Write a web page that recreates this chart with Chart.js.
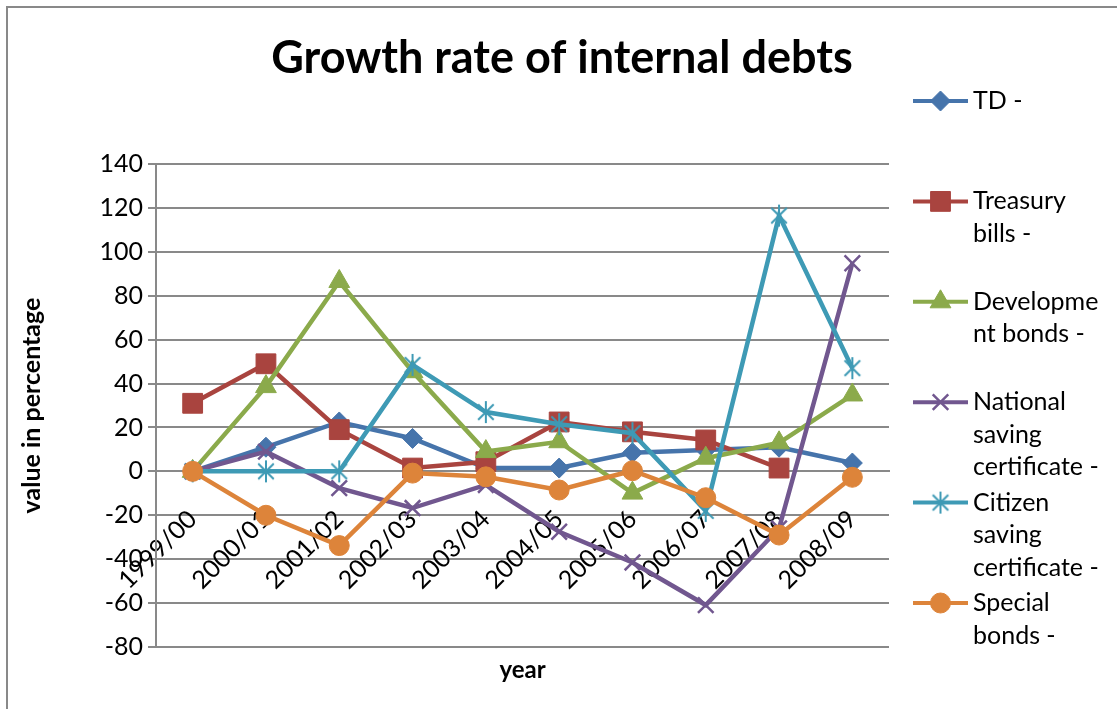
<!DOCTYPE html>
<html>
<head>
<meta charset="utf-8">
<title>Growth rate of internal debts</title>
<script src="https://cdn.jsdelivr.net/npm/chart.js@4.4.1/dist/chart.umd.min.js"></script>
<style>
  html, body { margin: 0; padding: 0; background: #fff; overflow: hidden; }
  #frame { position: absolute; left: 6px; top: 6px; width: 1200px; height: 800px; border: 2px solid #898989; }
  #chart { position: absolute; left: 0; top: 0; }
</style>
</head>
<body>
<div id="frame"></div>
<canvas id="chart" width="1117" height="709"></canvas>
<script>
const years = ["1999/00", "2000/01", "2001/02", "2002/03", "2003/04", "2004/05", "2005/06", "2006/07", "2007/08", "2008/09"];

const tdRates          = [0, 11, 22.5, 15, 1.5, 1.5, 8.5, 9.7, 11, 3.8];
const treasuryRates    = [31, 49, 19, 1.5, 4.4, 22.5, 18, 14.3, 1.5, null];
const devBondRates     = [0, 38.6, 86.5, 45.4, 9, 13.5, -9.9, 6, 13, 34.8];
const nscRates         = [0, 9, -7.6, -16.7, -6.2, -27.5, -41.5, -60.9, -26, 94.8];
const cscRates         = [0, 0, 0, 48.5, 27, 21.5, 17.4, -18, 116.5, 47];
const specialBondRates = [0, -20, -33.8, -0.8, -2.5, -8.5, 0.3, -12, -29, -2.7];

const seriesNames = ["TD -", "Treasury bills -", "Development bonds -", "National saving certificate -", "Citizen saving certificate -", "Special bonds -"];
// legend text wraps the same way the side panel does
const legendLines = [
  ["TD -"],
  ["Treasury", "bills -"],
  ["Developme", "nt bonds -"],
  ["National", "saving", "certificate -"],
  ["Citizen", "saving", "certificate -"],
  ["Special", "bonds -"]
];

const yTicksMin = -80, yTicksMax = 140, yTicksStep = 20;

const FONT = "Lato, 'Noto Sans', sans-serif";
const gridGray = "#898989";

const colors = ["#4674AB", "#A9443F", "#8BAA4B", "#71578F", "#3E9AB5", "#DD843A"];

// six-armed asterisk marker (vertical bar + X)
function makeAsterisk(color, r) {
  const c = document.createElement("canvas");
  c.width = c.height = 2 * r + 4;
  const g = c.getContext("2d");
  const m = c.width / 2;
  const d = r * Math.SQRT1_2;
  g.strokeStyle = color;
  g.lineWidth = 2;
  g.beginPath();
  g.moveTo(m, m - r); g.lineTo(m, m + r);
  g.moveTo(m - d, m - d); g.lineTo(m + d, m + d);
  g.moveTo(m - d, m + d); g.lineTo(m + d, m - d);
  g.stroke();
  return c;
}

const markers = [
  { style: "rectRot", radius: 10, border: 1 },
  { style: "rect", radius: 14, border: 1 },
  { style: "triangle", radius: 12, border: 1 },
  { style: "crossRot", radius: 11, border: 2.5 },
  { style: makeAsterisk(colors[4], 11), radius: 11, border: 2 },
  { style: "circle", radius: 10, border: 1 }
];

const seriesData = [tdRates, treasuryRates, devBondRates, nscRates, cscRates, specialBondRates];

const datasets = seriesData.map((values, i) => ({
  label: seriesNames[i],
  data: values,
  yAxisID: "y",
  borderColor: colors[i],
  backgroundColor: colors[i],
  borderWidth: 4.5,
  pointStyle: markers[i].style,
  pointRadius: markers[i].radius,
  pointHoverRadius: markers[i].radius,
  pointBorderWidth: markers[i].border,
  pointBorderColor: colors[i],
  pointBackgroundColor: colors[i],
  tension: 0,
  spanGaps: false,
  order: seriesData.length - i
}));

// legend on the right: line + marker, wrapped labels
const sideLegend = {
  id: "sideLegend",
  afterDraw(chart) {
    const ctx = chart.ctx;
    const top = 101, step = 100.4, lineGap = 32.5;
    const x0 = 913, x1 = 968, textX = 973;
    ctx.save();
    chart.data.datasets.forEach((ds, i) => {
      const y = top + step * i;
      ctx.strokeStyle = ds.borderColor;
      ctx.lineWidth = 4;
      ctx.beginPath();
      ctx.moveTo(x0, y);
      ctx.lineTo(x1, y);
      ctx.stroke();
      ctx.fillStyle = ds.pointBackgroundColor;
      ctx.strokeStyle = ds.pointBorderColor;
      ctx.lineWidth = ds.pointBorderWidth;
      Chart.helpers.drawPoint(ctx, {
        pointStyle: ds.pointStyle,
        radius: ds.pointRadius,
        borderWidth: ds.pointBorderWidth,
        rotation: 0
      }, (x0 + x1) / 2, y);
      ctx.fillStyle = "#000";
      ctx.font = "25px " + FONT;
      ctx.textAlign = "left";
      ctx.textBaseline = "middle";
      legendLines[i].forEach((line, j) => ctx.fillText(line, textX, y + j * lineGap));
    });
    ctx.restore();
  }
};

new Chart(document.getElementById("chart"), {
  type: "line",
  data: { labels: years, datasets: datasets },
  plugins: [sideLegend],
  options: {
    responsive: false,
    animation: false,
    events: [],
    layout: { autoPadding: false, padding: { left: 7, right: 0, top: 0, bottom: 0 } },
    plugins: {
      legend: { display: false },
      tooltip: { enabled: false },
      title: {
        display: true,
        text: "Growth rate of internal debts",
        color: "#000",
        font: { family: FONT, size: 45, weight: "bold" },
        padding: { top: 31, bottom: 79 }
      },
      subtitle: {
        display: true,
        position: "bottom",
        fullSize: false,
        text: "year",
        color: "#000",
        font: { family: FONT, size: 24, weight: "bold" },
        padding: { top: 8.6, bottom: 24.6 }
      }
    },
    scales: {
      x: {
        type: "category",
        offset: true,
        position: { y: 0 },
        grid: { display: false, drawTicks: false },
        border: { display: true, color: gridGray, width: 2 },
        ticks: {
          autoSkip: false,
          maxRotation: 45,
          minRotation: 45,
          padding: 33,
          color: "#000",
          font: { family: FONT, size: 25 }
        }
      },
      y: {
        type: "linear",
        position: "left",
        min: yTicksMin,
        max: yTicksMax,
        ticks: { stepSize: yTicksStep, color: "#000", padding: 5, font: { family: FONT, size: 25 } },
        grid: { color: gridGray, lineWidth: 2, tickLength: 8 },
        border: { color: gridGray, width: 2 },
        title: {
          display: true,
          text: "value in percentage",
          color: "#000",
          font: { family: FONT, size: 25, weight: "bold" },
          padding: { top: 10, bottom: 0 }
        },
        afterFit(scale) { scale.width = 149; }
      },
      legendSpace: {
        type: "linear",
        axis: "y",
        position: "right",
        grid: { display: false },
        border: { display: false },
        ticks: { display: false },
        afterFit(scale) { scale.width = 228; }
      }
    }
  }
});
</script>
</body>
</html>
